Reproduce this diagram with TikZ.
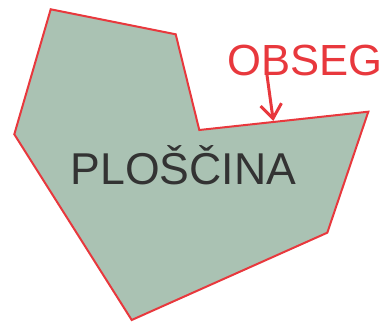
\documentclass[tikz,border=0pt]{standalone}
\usepackage{fontspec}
\setmainfont{Liberation Sans}
\usetikzlibrary{arrows.meta}
\definecolor{areagreen}{HTML}{AAC2B3}
\definecolor{edgered}{HTML}{E8383D}
\definecolor{textgrey}{HTML}{333333}
\tikzset{
    area-shape/.style = {draw=edgered, fill=areagreen, line width=2pt, line join=miter},
    area-label/.style = {text=textgrey, font=\fontsize{44.6}{44.6}\selectfont, inner sep=0pt, anchor=base},
    edge-label/.style = {text=edgered, font=\fontsize{43.6}{43.6}\selectfont, inner sep=0pt, anchor=base},
    edge-arrow/.style = {draw=edgered, line width=3pt, -{Straight Barb[length=14pt,width=21pt]}},
}
\begin{document}
\begin{tikzpicture}[x=1pt,y=-1pt]
\useasboundingbox (0,0) rectangle (390,321);
\coordinate (a) at (50.7,9.3);
\coordinate (b) at (175.7,34.3);
\coordinate (c) at (199.3,130);
\coordinate (d) at (368.3,111.7);
\coordinate (e) at (327.3,232.7);
\coordinate (f) at (131.7,320);
\coordinate (g) at (14.3,134.3);
\draw [area-shape] (a) -- (b) -- (c) -- (d) -- (e) -- (f) -- (g) -- cycle;
\node [area-label] (area) at (183.3,184.3) {PLOŠČINA};
\node [edge-label] (perimeter) at (305,75) {OBSEG};
\coordinate (tail) at (266.7,73);
\coordinate (tip) at (273.3,121);
\draw [edge-arrow] (tail) -- (tip);
\end{tikzpicture}
\end{document}
